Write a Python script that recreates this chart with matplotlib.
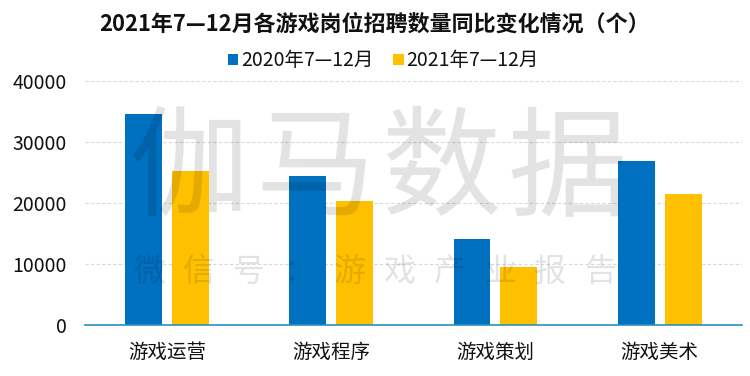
import numpy as np
from matplotlib import pyplot as plt

plt.rcParams['font.family'] = ['Noto Sans CJK SC', 'DejaVu Sans']

categories = ['游戏运营', '游戏程序', '游戏策划', '游戏美术']
series_names = ['2020年7—12月', '2021年7—12月']
v2020 = [34500, 24400, 14100, 26800]
v2021 = [25200, 20300, 9500, 21400]
yticks = [0, 10000, 20000, 30000, 40000]

colors = ['#0070C0', '#FFC000']

fig = plt.figure(figsize=(7.5, 3.76), dpi=100)
ax = fig.add_axes([0.1133, 0.1356, 0.8757, 0.6494])

x = np.arange(len(categories)) + 0.5
w = 0.225
ax.bar(x - 0.143, v2020, w, color=colors[0], label=series_names[0], zorder=2)
ax.bar(x + 0.143, v2021, w, color=colors[1], label=series_names[1], zorder=2)

ax.set_xlim(0, 4)
ax.set_ylim(0, 40000)
ax.set_yticks(yticks)
ax.set_yticklabels([str(t) for t in yticks])
ax.set_xticks(x)
ax.set_xticklabels(categories)
ax.tick_params(axis='both', length=0, labelsize=14, colors='#111111')
ax.tick_params(axis='y', pad=13)
ax.tick_params(axis='x', pad=12)
ax.grid(axis='y', color='#d9d9d9', linestyle=(0, (3, 2)), linewidth=0.8, zorder=0)
for s in ['top', 'right', 'left']:
    ax.spines[s].set_visible(False)
ax.spines['bottom'].set_color('#2a8fbd')
ax.spines['bottom'].set_linewidth(1.2)
ax.spines['bottom'].set_zorder(3)

fig.text(0.499, 0.937, '2021年7—12月各游戏岗位招聘数量同比变化情况（个）',
         ha='center', va='center', fontsize=15.8, fontweight='bold', color='#111111')

fig.legend(loc='center', bbox_to_anchor=(0.511, 0.838), ncol=2, frameon=False,
           fontsize=14, handlelength=0.55, handleheight=0.55, handletextpad=0.15,
           columnspacing=1.0, labelcolor='#111111', borderaxespad=0)

# 水印
for i, ch in enumerate('伽马数据'):
    fig.text((189 + 126 * i) / 750, 1 - 172 / 376, ch, ha='center', va='center',
             fontsize=86, fontweight='light', color='black', alpha=0.11, zorder=10)
for i, ch in enumerate('微信号：游戏产业报告'):
    fig.text((149 + 50.1 * i) / 750, 1 - 272 / 376, ch, ha='center', va='center',
             fontsize=23, fontweight='light', color='black', alpha=0.11, zorder=10)

plt.savefig('out.png', dpi=100)
